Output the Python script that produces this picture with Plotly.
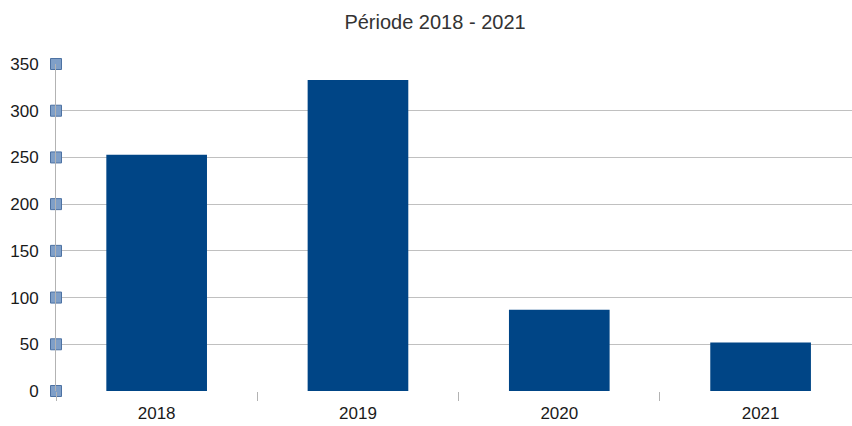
import plotly.graph_objects as go

years = ["2018", "2019", "2020", "2021"]
values = [253, 333, 87, 52]
y_ticks = [0, 50, 100, 150, 200, 250, 300, 350]

xpos = list(range(len(years)))

fig = go.Figure()
fig.add_trace(go.Bar(
    x=xpos, y=values, width=0.5,
    marker=dict(color="#004586", line=dict(width=0)),
    showlegend=False, hoverinfo="x+y",
))
fig.add_trace(go.Scatter(
    x=[-0.5] * len(y_ticks), y=y_ticks, mode="markers",
    marker=dict(symbol="square", size=11, color="#7f9fc8",
                line=dict(color="#4d72a3", width=1)),
    cliponaxis=False, showlegend=False, hoverinfo="skip",
))

fig.update_layout(
    width=852, height=426,
    margin=dict(l=56, r=0, t=64, b=35),
    paper_bgcolor="white", plot_bgcolor="white",
    font=dict(family="Liberation Sans, Arial, sans-serif", size=17, color="#1a1a1a"),
    title=dict(text="Période 2018 - 2021", x=435 / 852, xanchor="center",
               y=1 - 22 / 426, yanchor="middle",
               font=dict(size=20, color="#333333")),
    bargap=0.5,
)
fig.update_xaxes(
    range=[-0.5, 3.454],
    tickmode="array", tickvals=xpos, ticktext=years,
    ticks="", showgrid=False, zeroline=False,
    showline=False,
    ticklabelstandoff=10,
    minor=dict(tick0=-0.5, dtick=1, ticks="outside", ticklen=9,
               tickcolor="#b3b3b3", tickwidth=1, showgrid=False),
)
fig.update_yaxes(
    range=[0, 350], tickmode="array", tickvals=y_ticks,
    showgrid=True, gridcolor="#c0c0c0", gridwidth=1,
    zeroline=False, showline=True, linecolor="#b3b3b3", linewidth=1,
    ticks="", ticklabelstandoff=13,
)

fig.write_html("out.html")
